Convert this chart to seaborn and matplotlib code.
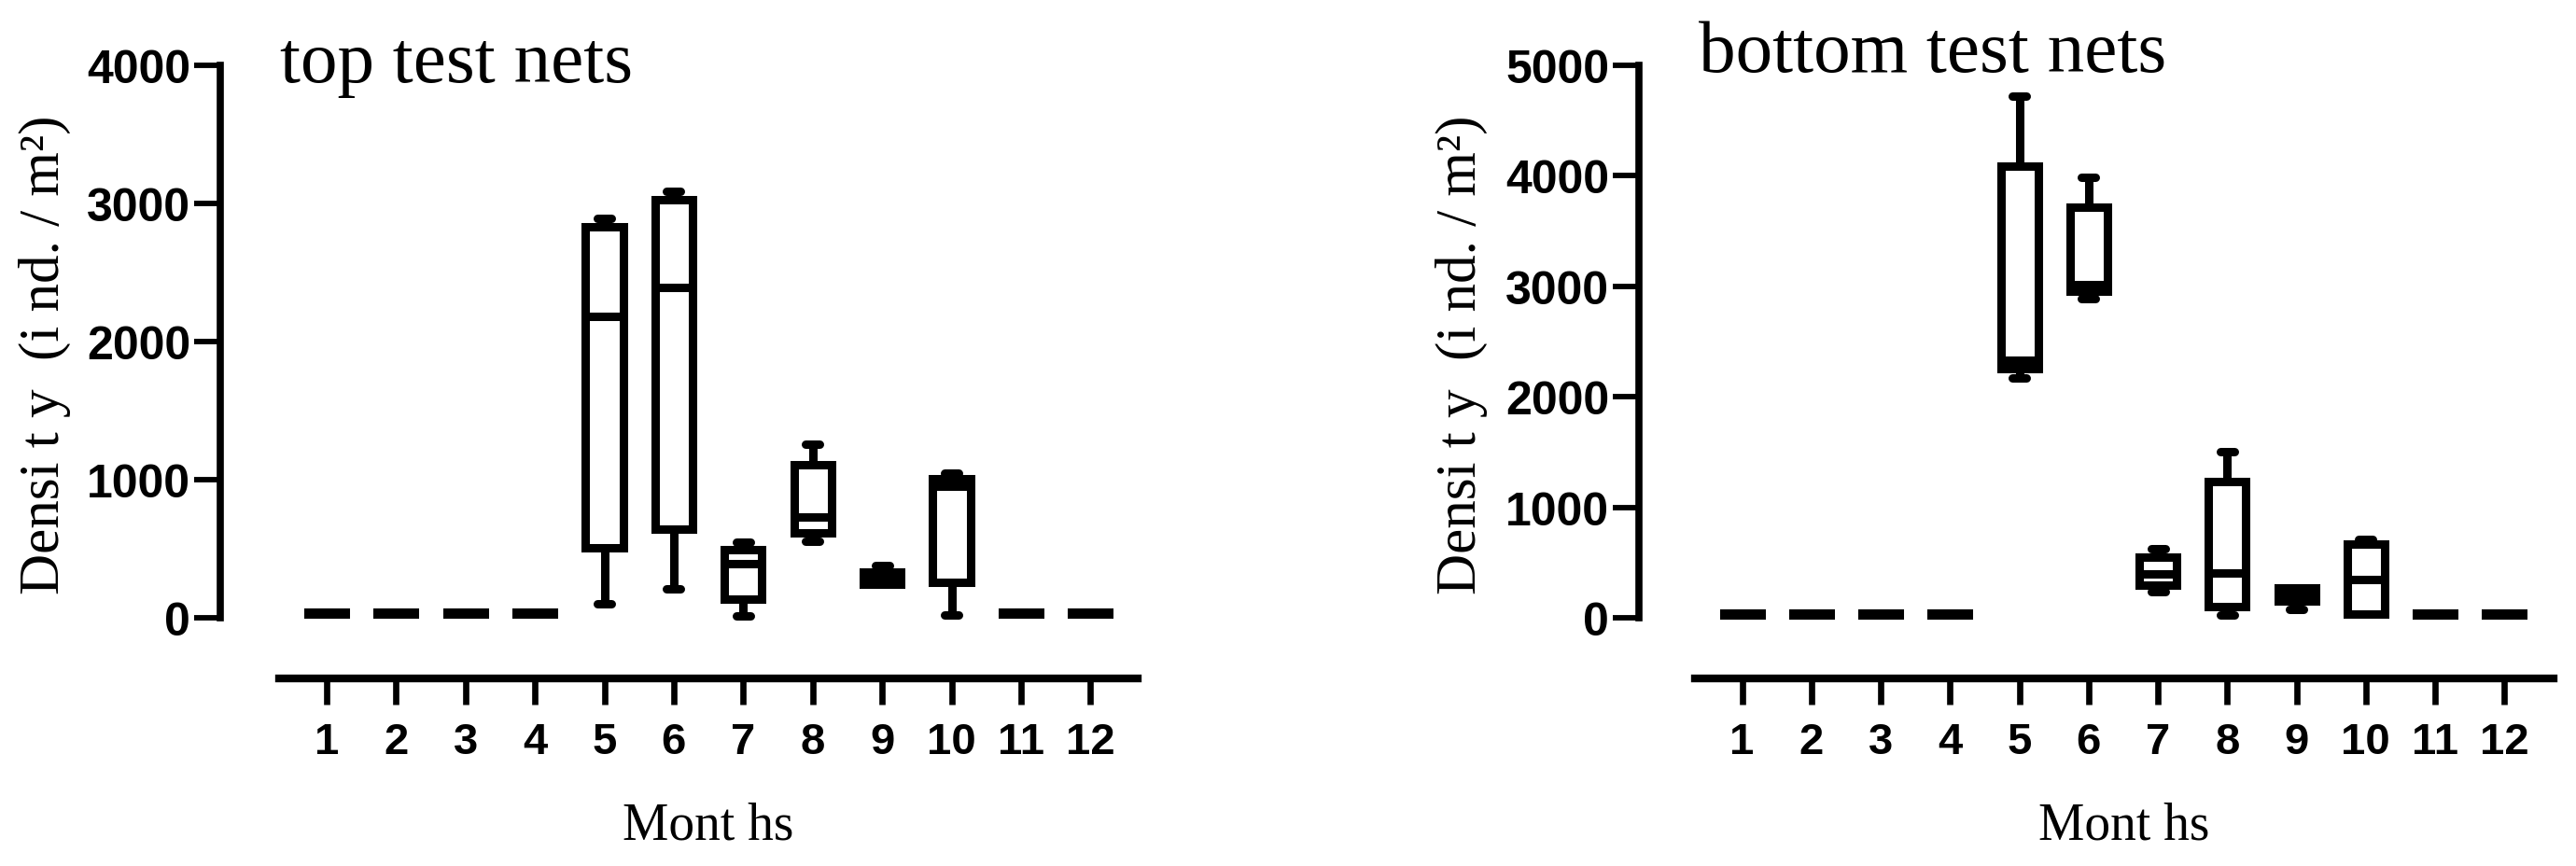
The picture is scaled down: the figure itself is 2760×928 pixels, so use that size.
import numpy as np
import pandas as pd
import matplotlib
matplotlib.use("Agg")
import matplotlib.pyplot as plt
import seaborn as sns

months = [str(m) for m in range(1, 13)]

# five-number summaries (min, q1, median, q3, max)
top_min = [25, 25, 25, 25, 100, 210, 15, 555, 240, 17, 25, 25]
top_q1 = [25, 25, 25, 25, 505, 640, 135, 615, 240, 260, 25, 25]
top_med = [32, 32, 32, 32, 2180, 2390, 390, 730, 277, 955, 32, 32]
top_q3 = [40, 40, 40, 40, 2830, 3030, 490, 1105, 328, 1008, 40, 40]
top_max = [40, 40, 40, 40, 2890, 3090, 550, 1260, 376, 1050, 40, 40]

bot_min = [25, 25, 25, 25, 2170, 2890, 240, 28, 76, 38, 25, 25]
bot_q1 = [25, 25, 25, 25, 2255, 2960, 297, 98, 152, 38, 25, 25]
bot_med = [32, 32, 32, 32, 2330, 3015, 400, 402, 200, 347, 32, 32]
bot_q3 = [40, 40, 40, 40, 4085, 3712, 551, 1229, 271, 669, 40, 40]
bot_max = [40, 40, 40, 40, 4720, 3990, 622, 1500, 271, 712, 40, 40]

titles = ["top test nets", "bottom test nets"]
ytop = [4000, 5000]


def long_form(mins, q1s, meds, q3s, maxs):
    rows = []
    for i, m in enumerate(months):
        for v in (mins[i], q1s[i], meds[i], q3s[i], maxs[i]):
            rows.append({"month": m, "density": v})
    return pd.DataFrame(rows)


df_top = long_form(top_min, top_q1, top_med, top_q3, top_max)
df_bot = long_form(bot_min, bot_q1, bot_med, bot_q3, bot_max)

sns.set_style("ticks")
plt.rcParams["font.family"] = ["Liberation Sans", "DejaVu Sans"]
plt.rcParams["text.color"] = "black"
plt.rcParams["xtick.color"] = "black"
plt.rcParams["ytick.color"] = "black"
plt.rcParams["axes.edgecolor"] = "black"

W, H = 2760, 929
fig = plt.figure(figsize=(W / 100, H / 100), dpi=100)

# pixel layout of each panel
panels = [
    dict(df=df_top, left=236, right=1219, xlim=(-1.53, 11.68), bounds=(-0.69, 11.68),
         tx=300, ty=88, ylx=48, xlx=759),
    dict(df=df_bot, left=1756, right=2736, xlim=(-1.49, 11.71), bounds=(-0.68, 11.71),
         tx=1820, ty=77, ylx=1566, xlx=2276),
]
top_px, bottom_px, zero_px = 71, 728, 663

for p, title, ymax in zip(panels, titles, ytop):
    ax = fig.add_axes([p["left"] / W, 1 - bottom_px / H,
                       (p["right"] - p["left"]) / W, (bottom_px - top_px) / H])
    sns.boxplot(data=p["df"], x="month", y="density", order=months, ax=ax,
                whis=(0, 100), width=0.54, color="white", linecolor="black",
                linewidth=6.5, fliersize=0, capwidths=0.2)
    # y range so that 0 sits at zero_px and the x axis sits at bottom_px
    per_px = ymax / (zero_px - top_px)
    ax.set_ylim(-(bottom_px - zero_px) * per_px, ymax)
    ax.set_xlim(*p["xlim"])
    sns.despine(ax=ax)
    ax.spines["left"].set_bounds(0, ymax)
    ax.spines["bottom"].set_bounds(*p["bounds"])
    ax.spines["left"].set_linewidth(5.5)
    ax.spines["bottom"].set_linewidth(6)
    ax.set_yticks(np.arange(0, ymax + 1, 1000))
    ax.set_xlabel("")
    ax.set_ylabel("")
    ax.tick_params(axis="y", length=20, width=4.2, labelsize=36, pad=3)
    ax.tick_params(axis="x", length=20, width=4.8, labelsize=34, pad=13)
    for lab in ax.get_xticklabels() + ax.get_yticklabels():
        lab.set_fontweight("bold")

    fig.text(p["tx"] / W, 1 - p["ty"] / H, title, family="Liberation Serif",
             fontsize=57, ha="left", va="baseline")
    fig.text(p["ylx"] / W, 1 - 380 / H, "Densi t y  (i nd. / m²)",
             family="Liberation Serif", fontsize=44, rotation=90,
             ha="center", va="center")
    fig.text(p["xlx"] / W, 1 - 886 / H, "Mont hs", family="Liberation Serif",
             fontsize=40, ha="center", va="center")

fig.savefig("out.png", dpi=100)
